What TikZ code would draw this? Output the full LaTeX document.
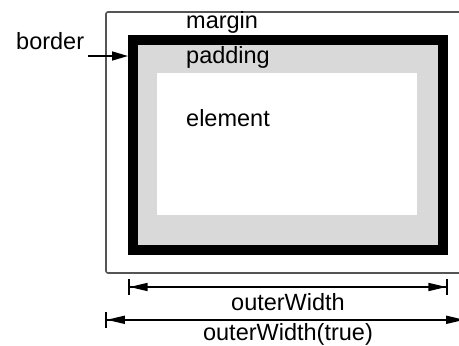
\documentclass[tikz,border=0pt]{standalone}
\usepackage{fontspec}
\setmainfont{Liberation Sans}
\usepackage{tikz}
\usetikzlibrary{arrows.meta}

\definecolor{padgray}{RGB}{217,217,217}
\definecolor{edgegray}{RGB}{85,85,85}

\tikzset{
  boxlabel/.style={anchor=base west, inner sep=0pt, font=\fontsize{23.5}{28}\selectfont},
  dimlabel/.style={anchor=base, inner sep=0pt, font=\fontsize{23.5}{28}\selectfont},
  dimline/.style={line width=1.6pt, arrows={Bar[width=16pt]Triangle[length=18pt,width=8pt]-Triangle[length=18pt,width=8pt]Bar[width=16pt]}}
}

\begin{document}
\begin{tikzpicture}[x=1pt, y=-1pt]
\useasboundingbox (0,0) rectangle (459,346);
\clip (0,0) rectangle (459,346);

\node (marginbox) at (285.5,142.5) [draw=edgegray, line width=1.6pt, rounded corners=2pt, rectangle, minimum width=359pt, minimum height=261pt] {};
\node (borderbox) at (288,145) [draw, line width=10pt, rectangle, fill=padgray, minimum width=310pt, minimum height=210pt] {};
\node (elementbox) at (287,144) [rectangle, fill=white, minimum width=260pt, minimum height=142pt] {};

\node (marginlabel) [boxlabel] at (186,28) {margin};
\node (paddinglabel) [boxlabel] at (186,63) {padding};
\node (elementlabel) [boxlabel] at (186,126) {element};
\node (borderlabel) [boxlabel] at (16,49) {border};

\draw[line width=1.6pt, -{Triangle[length=16pt,width=9pt]}] ([xshift=4pt,yshift=-7pt]borderlabel.base east) -- ([yshift=-7pt]borderlabel.base east -| borderbox.west);

\coordinate (owleft) at ([yshift=-32pt]borderbox.south west);
\coordinate (owright) at ([yshift=-32pt]borderbox.south east);
\draw[dimline] (owleft) -- (owright);
\node (owlabel) [dimlabel] at (288,310) {outerWidth};

\coordinate (owtleft) at ([yshift=-46pt]marginbox.south west);
\coordinate (owtright) at ([yshift=-46pt]marginbox.south east);
\draw[dimline] (owtleft) -- (owtright);
\node (owtlabel) [dimlabel] at (288,340) {outerWidth(true)};
\end{tikzpicture}
\end{document}
